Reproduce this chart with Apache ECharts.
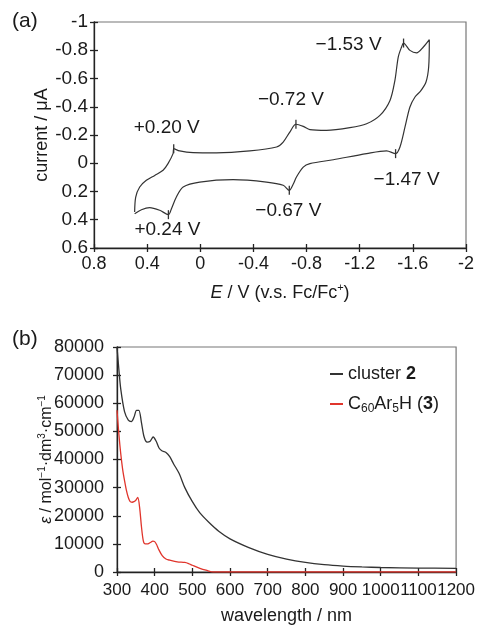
<!DOCTYPE html>
<html><head><meta charset="utf-8">
<script src="https://cdn.jsdelivr.net/npm/echarts@6/dist/echarts.min.js"></script>
<style>html,body{margin:0;padding:0;background:#fff}#c{width:478px;height:626px}</style>
</head><body><div id="c"></div>
<script>
// ---- Panel (a): cyclic voltammogram ----
const cvE = [0.494,0.486,0.456,0.406,0.343,0.280,0.243,0.205,0.20,0.155,0.054,-0.122,-0.373,-0.574,-0.624,-0.674,-0.72,-0.775,-0.825,-0.950,-1.126,-1.252,-1.352,-1.428,-1.465,-1.490,-1.515,-1.53,-1.578,-1.628,-1.679,-1.724,-1.719,-1.699,-1.659,-1.616,-1.578,-1.541,-1.503,-1.47,-1.402,-1.252,-1.001,-0.825,-0.775,-0.724,-0.699,-0.67,-0.624,-0.498,-0.247,0.004,0.129,0.180,0.217,0.24,0.305,0.381,0.443,0.494];
const cvI = [0.345,0.239,0.168,0.121,0.086,0.050,0.003,-0.068,-0.103,-0.087,-0.075,-0.073,-0.087,-0.115,-0.150,-0.221,-0.276,-0.261,-0.238,-0.233,-0.252,-0.280,-0.339,-0.445,-0.587,-0.752,-0.823,-0.851,-0.799,-0.781,-0.823,-0.875,-0.681,-0.575,-0.512,-0.469,-0.398,-0.257,-0.115,-0.068,-0.087,-0.068,-0.025,0.003,0.027,0.097,0.149,0.192,0.156,0.133,0.116,0.133,0.168,0.239,0.322,0.364,0.333,0.314,0.329,0.357];
const peakE = [0.20,-0.72,-1.53,-1.47,-0.67,0.24];
const peakI = [-0.103,-0.276,-0.851,-0.068,0.192,0.364];
const peakLabels = ['+0.20 V','\u22120.72 V','\u22121.53 V','\u22121.47 V','\u22120.67 V','+0.24 V'];

// ---- Panel (b): absorption spectra ----
const seriesNames = ['cluster 2','C60Ar5H (3)'];
const wlCluster = [300,305,310,320,330,338,345,352,358,365,372,380,388,396,404,412,420,430,440,450,465,480,500,520,545,570,600,650,700,750,800,850,900,950,1000,1100,1200];
const epsCluster = [80000,72000,65000,57000,54000,53500,55000,57500,57500,53000,48000,46200,46500,48000,46500,44000,43000,42500,41000,38500,35000,30000,25000,21000,17500,14500,11800,8700,6300,4600,3400,2600,2100,1800,1600,1400,1300];
const wlC60 = [300,305,310,315,320,325,330,335,340,345,350,355,360,365,370,375,380,385,390,395,400,405,410,420,430,440,460,480,490,500,520,540,555,600,700,800,900,1000,1100,1200];
const epsC60 = [57500,49000,42000,36500,32500,29000,26500,25000,24800,25000,25500,26500,23000,16000,11000,10000,10000,10200,10600,11000,10800,9800,8200,5800,4600,4200,3600,3400,3000,2400,1300,500,0,0,0,0,0,0,0,0];

// layout / style (not data)
const peakLabelOffsets = [[-7,-21],[-5,-24],[-55,2],[11,26],[-1,20],[-1,15]];
const FONT = 'Liberation Sans, Arial, Helvetica, sans-serif';
const TXT = '#1a1a1a';

const chart = echarts.init(document.getElementById('c'), null, {renderer:'canvas'});

function mainAxis(extra){
  return Object.assign({
    type:'value',
    nameMoveOverlap:false,
    axisLine:{show:true,onZero:false,lineStyle:{color:'#222',width:1.3}},
    axisTick:{show:true,inside:false,length:4,lineStyle:{color:'#222',width:1.3}},
    splitLine:{show:false}
  }, extra);
}
function dupAxis(extra){
  return Object.assign({
    type:'value',
    axisLine:{show:false,onZero:false},
    axisTick:{show:true,inside:true,length:4,lineStyle:{color:'#222',width:1.3}},
    splitLine:{show:false},
    axisLabel:{show:false}
  }, extra);
}

const nameStyle = {color:TXT,fontFamily:FONT,fontSize:18};

const option = {
  animation:false,
  backgroundColor:'#fff',
  grid:[
    {left:94,top:22,width:372,height:226,show:true,borderColor:'#777',borderWidth:1.2,containLabel:false},
    {left:117,top:347,width:342,height:226,show:true,borderColor:'#777',borderWidth:1.2,containLabel:false}
  ],
  xAxis:[
    mainAxis({gridIndex:0,position:'bottom',min:-2,max:0.8,interval:0.4,inverse:true,
      axisLabel:{color:TXT,fontFamily:FONT,fontSize:18,margin:7,showMinLabel:true,showMaxLabel:true},
      name:'{i|E} / V (v.s. Fc/Fc{sup|+})',nameLocation:'middle',nameGap:34,
      nameTextStyle:Object.assign({},nameStyle,{lineHeight:22,rich:{
        i:{fontStyle:'italic',fontFamily:FONT,fontSize:18,color:TXT,lineHeight:22},
        sup:{fontFamily:FONT,fontSize:11,color:TXT,verticalAlign:'top',lineHeight:12}
      }})}),
    dupAxis({gridIndex:0,position:'bottom',min:-2,max:0.8,interval:0.4,inverse:true}),
    mainAxis({gridIndex:1,position:'bottom',min:300,max:1200,interval:100,
      axisLabel:{color:TXT,fontFamily:FONT,fontSize:17,margin:10,showMinLabel:true,showMaxLabel:true,hideOverlap:false,formatter:v=>String(v)},
      name:'wavelength / nm',nameLocation:'middle',nameGap:35,nameTextStyle:nameStyle}),
    dupAxis({gridIndex:1,position:'bottom',min:300,max:1200,interval:100})
  ],
  yAxis:[
    mainAxis({gridIndex:0,position:'left',min:-1,max:0.6,interval:0.2,inverse:true,
      axisLabel:{color:TXT,fontFamily:FONT,fontSize:19,margin:6,showMinLabel:true,showMaxLabel:true},
      name:'current / \u03bcA',nameLocation:'middle',nameGap:43,nameTextStyle:nameStyle}),
    dupAxis({gridIndex:0,position:'left',min:-1,max:0.6,interval:0.2,inverse:true}),
    mainAxis({gridIndex:1,position:'left',min:0,max:80000,interval:10000,
      axisLabel:{color:TXT,fontFamily:FONT,fontSize:18,margin:13,showMinLabel:true,showMaxLabel:true,formatter:v=>String(v)},
      name:'{i|\u03b5} / mol{sup|\u22121}\u00b7dm{sup|3}\u00b7cm{sup|\u22121}',nameLocation:'middle',nameGap:60,
      nameTextStyle:{color:TXT,fontFamily:FONT,fontSize:16,lineHeight:20,rich:{
        i:{fontStyle:'italic',fontFamily:FONT,fontSize:16,color:TXT,lineHeight:20},
        sup:{fontFamily:FONT,fontSize:10,color:TXT,verticalAlign:'top',lineHeight:11}
      }}}),
    dupAxis({gridIndex:1,position:'left',min:0,max:80000,interval:10000})
  ],
  legend:{
    orient:'vertical',left:325,top:358,itemWidth:13,itemHeight:2,itemGap:8,
    data:[{name:seriesNames[0],icon:'rect'},{name:seriesNames[1],icon:'rect'}],
    formatter:function(n){
      return n===seriesNames[0] ? 'cluster {b|2}' : 'C{sub|60}Ar{sub|5}H ({b|3})';
    },
    textStyle:{color:TXT,fontFamily:FONT,fontSize:18,lineHeight:22,rich:{
      b:{fontWeight:'bold',fontFamily:FONT,fontSize:18,color:TXT,lineHeight:22},
      sub:{fontFamily:FONT,fontSize:12,color:TXT,verticalAlign:'bottom',lineHeight:13}
    }}
  },
  graphic:[
    {type:'text',left:12,top:11,style:{text:'(a)',fontFamily:FONT,fontSize:21,fill:TXT}},
    {type:'text',left:12,top:329,style:{text:'(b)',fontFamily:FONT,fontSize:21,fill:TXT}}
  ],
  series:[
    {type:'line',xAxisIndex:0,yAxisIndex:0,showSymbol:false,smooth:0.3,
      lineStyle:{color:'#333',width:1.2},
      data:cvE.map((e,k)=>[e,cvI[k]])},
    {type:'scatter',xAxisIndex:0,yAxisIndex:0,symbol:'rect',symbolSize:[1.3,9],
      itemStyle:{color:'#333',opacity:1},
      data:peakE.map((e,k)=>({value:[e,peakI[k]],
        label:{show:true,position:'inside',offset:peakLabelOffsets[k],formatter:peakLabels[k],
          color:TXT,fontFamily:FONT,fontSize:19,opacity:1}}))},
    {name:seriesNames[0],type:'line',xAxisIndex:2,yAxisIndex:2,showSymbol:false,smooth:0.3,
      color:'#333',lineStyle:{color:'#333',width:1.3},
      data:wlCluster.map((w,k)=>[w,epsCluster[k]])},
    {name:seriesNames[1],type:'line',xAxisIndex:2,yAxisIndex:2,showSymbol:false,smooth:0.3,
      color:'#e0352c',lineStyle:{color:'#e0352c',width:1.3},
      data:wlC60.map((w,k)=>[w,epsC60[k]])}
  ]
};
chart.setOption(option);
</script></body></html>
